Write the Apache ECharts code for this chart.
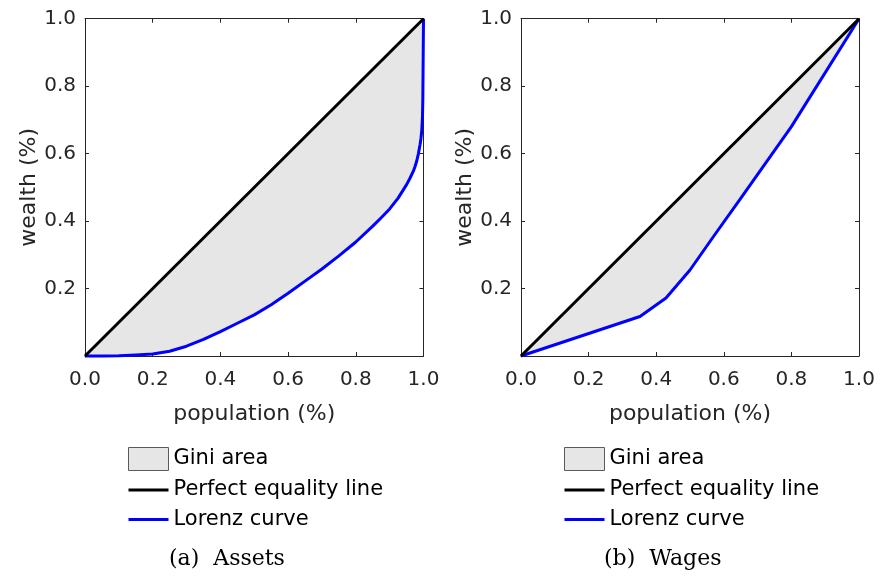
<!DOCTYPE html>
<html>
<head>
<meta charset="utf-8">
<script src="https://cdn.jsdelivr.net/npm/echarts@6/dist/echarts.min.js"></script>
<style>
html,body{margin:0;padding:0;background:#fff;}
#chart{width:881px;height:577px;}
</style>
</head>
<body>
<div id="chart"></div>
<script>
// ---- data ----
const xTicks = [0, 0.2, 0.4, 0.6, 0.8, 1.0];
const yTicks = [0.2, 0.4, 0.6, 0.8, 1.0];

const equalityX = [0, 1];
const equalityY = [0, 1];

// (a) Assets Lorenz curve
const assetsPop = [0, 0.05, 0.1, 0.15, 0.2, 0.25, 0.3, 0.35, 0.4, 0.45, 0.5, 0.55, 0.6, 0.65, 0.7, 0.75, 0.8, 0.85, 0.875, 0.9, 0.925, 0.95, 0.96, 0.97, 0.975, 0.98, 0.985, 0.99, 0.9925, 0.995, 0.997, 0.998, 0.999, 1.0];
const assetsWealth = [0, 0.0003, 0.001, 0.003, 0.006, 0.014, 0.029, 0.049, 0.072, 0.097, 0.122, 0.152, 0.186, 0.222, 0.258, 0.297, 0.338, 0.385, 0.41, 0.436, 0.468, 0.508, 0.527, 0.548, 0.562, 0.578, 0.60, 0.628, 0.645, 0.67, 0.71, 0.76, 0.88, 1.0];

// (b) Wages Lorenz curve
const wagesPop = [0, 0.352, 0.429, 0.5, 0.57, 0.65, 0.8, 1.0];
const wagesWealth = [0, 0.117, 0.172, 0.255, 0.355, 0.467, 0.68, 1.0];

const legendNames = ['Gini area', 'Perfect equality line', 'Lorenz curve'];
const captions = ['(a)  Assets', '(b)  Wages'];
const xAxisName = 'population (%)';
const yAxisName = 'wealth (%)';

// ---- build ----
const SANS = 'DejaVu Sans';
const SERIF = 'DejaVu Serif';
const AX = '#262626';
const grids = [
  {left: 85, top: 18.7, width: 338.5, height: 337.3},
  {left: 521, top: 18.7, width: 338, height: 337.3}
];

function pairs(xs, ys) { return xs.map((x, i) => [x, ys[i]]); }

const xAxes = [], yAxes = [], series = [], legends = [], titles = [];
const panels = [[assetsPop, assetsWealth], [wagesPop, wagesWealth]];
const legendLeft = [128, 564];
const captionLeft = [169, 604];
const LINE_ICON = 'path://M0,0H40V3H0Z';

panels.forEach((p, g) => {
  const base = {
    gridIndex: g, type: 'value', min: 0, max: 1, interval: 0.2,
    axisLine: {show: true, onZero: false, lineStyle: {color: AX, width: 1}},
    axisTick: {show: true, inside: true, length: 4, lineStyle: {color: AX}},
    splitLine: {show: false}
  };
  xAxes.push(Object.assign({}, base, {
    position: 'bottom',
    name: xAxisName, nameLocation: 'middle', nameGap: 47,
    nameTextStyle: {fontFamily: SANS, fontSize: 22, color: AX},
    axisLabel: {fontFamily: SANS, fontSize: 20, color: AX, margin: 14,
      formatter: v => v.toFixed(1)}
  }));
  xAxes.push(Object.assign({}, base, {position: 'top', axisLabel: {show: false}}));
  yAxes.push(Object.assign({}, base, {
    position: 'left',
    name: yAxisName, nameLocation: 'middle', nameGap: 45,
    nameTextStyle: {fontFamily: SANS, fontSize: 22, color: AX},
    axisLabel: {fontFamily: SANS, fontSize: 20, color: AX, margin: 9,
      formatter: v => (v === 0 ? '' : v.toFixed(1))}
  }));
  yAxes.push(Object.assign({}, base, {position: 'right', axisLabel: {show: false}}));

  const xi = g * 2, yi = g * 2;
  const lorenz = pairs(p[0], p[1]);
  const equality = pairs(equalityX, equalityY);

  series.push({
    name: 'Gini area', type: 'custom', xAxisIndex: xi, yAxisIndex: yi,
    data: lorenz, silent: true, z: 1,
    itemStyle: {color: '#e6e6e6'},
    renderItem: function (params, api) {
      if (params.dataIndex !== 0) return null;
      const pts = lorenz.map(d => api.coord(d))
        .concat(equality.slice().reverse().map(d => api.coord(d)));
      return {type: 'polygon', shape: {points: pts},
        style: {fill: '#e6e6e6', stroke: null}};
    }
  });
  series.push({
    name: 'Perfect equality line', type: 'line', xAxisIndex: xi, yAxisIndex: yi,
    data: equality, symbol: 'none', clip: false,
    color: '#000000', lineStyle: {color: '#000000', width: 3}, z: 4
  });
  series.push({
    name: 'Lorenz curve', type: 'line', xAxisIndex: xi, yAxisIndex: yi,
    data: lorenz, symbol: 'none', clip: false,
    color: '#0000ff', lineStyle: {color: '#0000ff', width: 3, join: 'round'}, z: 3
  });

  legends.push({
    orient: 'vertical', left: legendLeft[g], top: 447, padding: 0,
    itemWidth: 40, itemHeight: 23, itemGap: 8.5, selectedMode: false,
    symbolKeepAspect: true,
    textStyle: {fontFamily: SANS, fontSize: 21, color: '#000'},
    data: [
      {name: legendNames[0], icon: 'rect',
       itemStyle: {color: '#e6e6e6', borderColor: '#5a5a5a', borderWidth: 1}},
      {name: legendNames[1], icon: LINE_ICON,
       itemStyle: {color: '#000000', borderWidth: 0}},
      {name: legendNames[2], icon: LINE_ICON,
       itemStyle: {color: '#0000ff', borderWidth: 0}}
    ]
  });
  titles.push({
    text: captions[g], left: captionLeft[g], top: 548, padding: 0,
    textStyle: {fontFamily: SERIF, fontSize: 22, fontWeight: 'normal', color: '#000'}
  });
});

const option = {
  animation: false,
  backgroundColor: '#fff',
  grid: grids,
  xAxis: xAxes,
  yAxis: yAxes,
  legend: legends,
  title: titles,
  series: series
};
const chart = echarts.init(document.getElementById('chart'), null, {renderer: 'canvas'});
chart.setOption(option);
</script>
</body>
</html>
